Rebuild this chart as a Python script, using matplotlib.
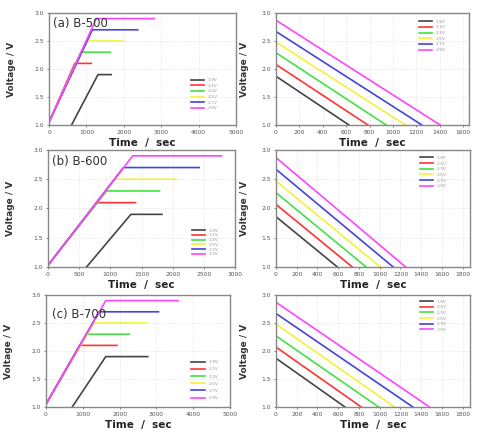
import matplotlib.pyplot as plt

labels = ['1.9V', '2.1V', '2.3V', '2.5V', '2.7V', '2.9V']
colors = ['#444444', '#ff3333', '#44e044', '#f2f23c', '#4444dd', '#ff44ff']
plateau = [1.9, 2.1, 2.3, 2.5, 2.7, 2.9]

# charge curves: start time, start voltage, knee time, end time
a_start_t = [602, 0, 0, 0, 0, 0]
a_start_v = [1.0, 1.05, 1.05, 1.05, 1.05, 1.05]
a_knee = [1310, 690, 850, 1018, 1160, 1265]
a_end = [1664, 1133, 1637, 1973, 2372, 2814]

b_start_t = [618, 0, 0, 0, 0, 0]
b_start_v = [1.0, 1.03, 1.03, 1.03, 1.03, 1.03]
b_knee = [1330, 785, 940, 1065, 1210, 1360]
b_end = [1828, 1403, 1790, 2060, 2425, 2785]

c_start_t = [712, 0, 0, 0, 0, 0]
c_start_v = [1.0, 1.05, 1.05, 1.05, 1.05, 1.05]
c_knee = [1624, 912, 1104, 1305, 1442, 1624]
c_end = [2765, 1925, 2263, 2719, 3057, 3586]

# discharge curves: start voltage, time reaching 1.0 V
d1_v0 = [1.87, 2.08, 2.29, 2.48, 2.67, 2.87]
d1_end = [624, 786, 942, 1106, 1248, 1404]
d2_v0 = [1.86, 2.07, 2.27, 2.47, 2.67, 2.87]
d2_end = [592, 736, 870, 1006, 1130, 1251]
d3_v0 = [1.87, 2.07, 2.27, 2.48, 2.67, 2.87]
d3_end = [665, 822, 990, 1144, 1320, 1480]

W, H = 479, 433
fig = plt.figure(figsize=(W / 100, H / 100), dpi=100)


def box(x0, y0, x1, y1):
    return fig.add_axes([x0 / W, 1 - y1 / H, (x1 - x0) / W, (y1 - y0) / H])


def style(ax, xmax, xticks, ypad):
    ax.set_xlim(0, xmax)
    ax.set_ylim(1.0, 3.0)
    ax.set_xticks(xticks)
    ax.set_xticklabels([str(t) for t in xticks])
    ax.set_yticks([1.0, 1.5, 2.0, 2.5, 3.0])
    ax.tick_params(labelsize=4.3, colors='#555555', length=1.5, width=0.5, pad=2)
    ax.grid(True, color='#dddddd', linestyle=':', linewidth=0.6)
    for s in ax.spines.values():
        s.set_color('#888888')
        s.set_linewidth(1.0)
    ax.set_xlabel('Time  /  sec', fontsize=7.5, fontweight='bold', color='#222222', labelpad=2)
    ax.set_ylabel('Voltage / V', fontsize=6.5, fontweight='bold', color='#333333', labelpad=ypad)


def legend(ax, x, y, spacing):
    ax.legend(loc='upper left', bbox_to_anchor=(x, y), fontsize=3.2, frameon=False,
              labelcolor='#999999', handlelength=3.0, handletextpad=0.8,
              labelspacing=spacing, borderpad=0, borderaxespad=0)


def charge(ax, st, sv, knee, end):
    for i in range(6):
        ax.plot([st[i], knee[i], end[i]], [sv[i], plateau[i], plateau[i]],
                color=colors[i], lw=1.2, label=labels[i])


def discharge(ax, v0, end):
    for i in range(6):
        ax.plot([0, end[i]], [v0[i], 1.0], color=colors[i], lw=1.2, label=labels[i])


left_ticks = [0, 1000, 2000, 3000, 4000, 5000]

ax = box(49, 13, 236, 125)
charge(ax, a_start_t, a_start_v, a_knee, a_end)
style(ax, 5000, left_ticks, 13)
legend(ax, 0.76, 0.42, 0.35)
ax.text(0.02, 0.96, '(a) B-500', transform=ax.transAxes, fontsize=8.5, va='top', color='#333333')

ax = box(276, 13, 469, 125)
discharge(ax, d1_v0, d1_end)
style(ax, 1651, list(range(0, 1601, 200)), 9)
legend(ax, 0.74, 0.94, 0.35)

ax = box(48, 150, 235, 267)
charge(ax, b_start_t, b_start_v, b_knee, b_end)
style(ax, 3000, [0, 500, 1000, 1500, 2000, 2500, 3000], 13)
legend(ax, 0.77, 0.33, 0.15)
ax.text(0.02, 0.96, '(b) B-600', transform=ax.transAxes, fontsize=8.5, va='top', color='#333333')

ax = box(276, 150, 470, 267)
discharge(ax, d2_v0, d2_end)
style(ax, 1871, list(range(0, 1801, 200)), 9)
legend(ax, 0.74, 0.95, 0.35)

ax = box(46, 295, 230, 407)
charge(ax, c_start_t, c_start_v, c_knee, c_end)
style(ax, 5000, left_ticks, 13)
legend(ax, 0.79, 0.42, 0.7)
ax.text(0.03, 0.88, '(c) B-700', transform=ax.transAxes, fontsize=8.5, va='top', color='#333333')

ax = box(276, 295, 470, 407)
discharge(ax, d3_v0, d3_end)
style(ax, 1871, list(range(0, 1801, 200)), 9)
legend(ax, 0.74, 0.96, 0.35)

fig.savefig('out.png', dpi=100)
